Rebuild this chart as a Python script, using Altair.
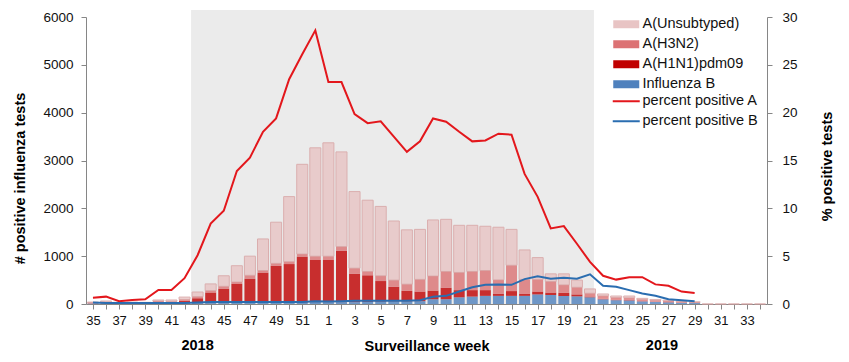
import json
import altair as alt
import pandas as pd

# ---- categories -----------------------------------------------------------
weeks = list(range(35, 53)) + list(range(1, 35))
tick_labels = [str(w) if k % 2 == 0 else "" for k, w in enumerate(weeks)]

# ---- stacked bar series (counts of positive tests), weeks 35..52, 1..34 ----
influenza_b = [10, 10, 10, 10, 10, 10, 10, 15, 20, 20, 20, 25, 25, 25, 30, 30, 30, 40,
               40, 40, 40, 45, 50, 55, 55, 60, 100, 100, 140, 155, 170, 170, 170, 170, 200,
               188, 167, 160, 140, 100, 80, 75, 55, 45, 35, 25, 20, 0, 0, 0, 0, 0]
h1n1 = [5, 5, 5, 5, 5, 25, 25, 55, 100, 220, 300, 400, 505, 630, 770, 805, 960, 880,
        880, 1070, 590, 555, 430, 305, 220, 200, 180, 240, 150, 135, 120, 45, 100, 40, 60,
        50, 66, 40, 15, 10, 10, 10, 5, 5, 5, 5, 5, 0, 0, 0, 0, 0]
h3n2 = [15, 30, 10, 15, 10, 30, 20, 25, 35, 40, 50, 35, 70, 45, 50, 50, 55, 80,
        80, 90, 120, 80, 110, 140, 140, 255, 305, 340, 370, 390, 410, 290, 540, 305, 255,
        232, 167, 150, 70, 60, 45, 45, 35, 30, 25, 20, 15, 0, 0, 0, 0, 0]
unsubtyped = [10, 18, 10, 10, 10, 19, 29, 50, 95, 140, 220, 340, 400, 660, 860, 1360, 1875, 2265,
              2370, 1980, 1600, 1490, 1450, 1235, 1135, 1045, 1172, 1090, 985, 965, 925, 1100, 750, 615, 455,
              160, 230, 150, 90, 40, 32, 37, 23, 15, 15, 10, 5, 0, 0, 0, 0, 0]

# ---- percent positive lines (right axis), data until week 29 ----------------
pct_a = [0.66, 0.77, 0.3, 0.42, 0.49, 1.46, 1.46, 2.7, 5.1, 8.4, 9.75, 13.9, 15.3, 18.0, 19.4, 23.5, 26.1, 28.6,
         23.2, 23.2, 19.85, 18.9, 19.1, 17.5, 15.9, 17.0, 19.4, 19.05, 18.0, 17.0, 17.1, 17.8, 17.7, 13.6, 11.2,
         7.9, 8.15, 6.3, 4.4, 2.95, 2.55, 2.8, 2.8, 2.05, 1.9, 1.3, 1.15]
pct_b = [0.15, 0.1, 0.1, 0.1, 0.1, 0.1, 0.1, 0.1, 0.15, 0.2, 0.2, 0.2, 0.2, 0.2, 0.2, 0.2, 0.2, 0.3,
         0.25, 0.3, 0.35, 0.35, 0.35, 0.35, 0.35, 0.4, 0.75, 0.85, 1.3, 1.75, 2.0, 2.05, 2.0, 2.6, 2.9,
         2.65, 2.75, 2.65, 3.1, 1.9, 1.8, 1.45, 1.1, 0.87, 0.5, 0.4, 0.3]

# ---- season shading (in category index units) and year labels --------------
season_start = [7.5]
season_end = [38.3]
years = ["2018", "2019"]
year_pos = [8, 43.5]

bar_names = ["A(Unsubtyped)", "A(H3N2)", "A(H1N1)pdm09", "Influenza B"]
bar_colors = ["#e8c4c4", "#dc7274", "#c00000", "#4f81bd"]
line_names = ["percent positive A", "percent positive B"]
line_colors = ["#e3171c", "#2a6db0"]

rows = []
for name, vals, order in [("Influenza B", influenza_b, 1), ("A(H1N1)pdm09", h1n1, 2),
                          ("A(H3N2)", h3n2, 3), ("A(Unsubtyped)", unsubtyped, 4)]:
    for k, v in enumerate(vals):
        rows.append({"i": k, "week": weeks[k], "series": name, "value": v, "order": order})
bars_df = pd.DataFrame(rows)

lrows = []
for name, vals in [("percent positive A", pct_a), ("percent positive B", pct_b)]:
    for k, v in enumerate(vals):
        lrows.append({"i": k, "week": weeks[k], "series": name, "pct": v})
lines_df = pd.DataFrame(lrows)

shade_df = pd.DataFrame({"start": season_start, "end": season_end})
years_df = pd.DataFrame({"year": years, "pos": year_pos})

FONT = "Liberation Sans"
W, H = 681, 287

x_scale = alt.Scale(domain=[-0.15, 51.15], nice=False, zero=False)
x_axis = alt.Axis(
    values=list(range(len(weeks))),
    labelExpr=json.dumps(tick_labels) + "[datum.value]",
    labelOverlap=False, labelFlush=False,
    title="Surveillance  week", titleFont=FONT, titleFontSize=14.5, titleFontWeight="bold",
    titleBaseline="middle", titleY=42, titleColor="#000",
    labelFont=FONT, labelFontSize=13, labelColor="#111", labelPadding=5,
    domainColor="#868686", tickColor="#868686", tickSize=5, grid=False,
)

shade = alt.Chart(shade_df).mark_rect(color="#ebebeb").encode(
    x=alt.X("start:Q", scale=x_scale, axis=x_axis),
    x2="end:Q",
    y=alt.value(-7),
    y2=alt.value(H),
)

bars = alt.Chart(bars_df).mark_bar(size=11, opacity=0.8, strokeWidth=1).encode(
    x=alt.X("i:Q", scale=x_scale, axis=x_axis),
    y=alt.Y("value:Q", stack="zero",
            scale=alt.Scale(domain=[0, 6000], nice=False),
            axis=alt.Axis(values=[0, 1000, 2000, 3000, 4000, 5000, 6000], format="d",
                          title="# positive influenza tests", titleFont=FONT, titleFontSize=14.5,
                          titleFontWeight="bold", titleAngle=270, titleAlign="center",
                          titleBaseline="middle", titleX=-66, titleY=161, titleColor="#000",
                          labelFont=FONT, labelFontSize=13.5, labelColor="#111", labelPadding=8,
                          domainColor="#868686", tickColor="#868686", tickSize=5, grid=False)),
    color=alt.Color("series:N", scale=alt.Scale(domain=bar_names, range=bar_colors),
                    legend=alt.Legend(orient="none", legendX=533, legendY=0, title=None,
                                      symbolType="M-2.6,-0.8H2.6V0.8H-2.6Z", symbolSize=100,
                                      symbolOpacity=1, symbolStrokeWidth=0, labelOffset=9,
                                      labelFont=FONT, labelFontSize=14.5, labelColor="#111",
                                      rowPadding=5, padding=0)),
    order=alt.Order("order:Q", sort="ascending"),
    stroke=alt.condition("datum.series === 'A(Unsubtyped)'", alt.value("#d7a0a0"),
                         alt.value("transparent")),
)

lines = alt.Chart(lines_df).mark_line(strokeWidth=2).encode(
    x=alt.X("i:Q", scale=x_scale, axis=x_axis),
    y=alt.Y("pct:Q", scale=alt.Scale(domain=[0, 30], nice=False),
            axis=alt.Axis(orient="right", values=[0, 5, 10, 15, 20, 25, 30], format="d",
                          title="% positive tests", titleFont=FONT, titleFontSize=14.5,
                          titleFontWeight="bold", titleAngle=270, titleAlign="center",
                          titleBaseline="middle", titleX=60, titleY=149, titleColor="#000",
                          labelFont=FONT, labelFontSize=13.5, labelColor="#111", labelPadding=10,
                          domainColor="#868686", tickColor="#868686", tickSize=5, grid=False)),
    stroke=alt.Stroke("series:N", scale=alt.Scale(domain=line_names, range=line_colors),
                      legend=alt.Legend(orient="none", legendX=533, legendY=77, title=None,
                                        symbolType="M-2.7,0H2.7", symbolSize=100,
                                        symbolStrokeWidth=2, labelOffset=9,
                                        labelFont=FONT, labelFontSize=14.5, labelColor="#111",
                                        rowPadding=5, padding=0)),
)

year_text = alt.Chart(years_df).mark_text(font=FONT, fontSize=14.5, fontWeight="bold",
                                          baseline="middle", align="center", color="#000").encode(
    x=alt.X("pos:Q", scale=x_scale, axis=x_axis),
    y=alt.value(H + 42),
    text="year:N",
)

chart = alt.layer(shade, bars, lines, year_text).resolve_scale(
    y="independent", color="independent", stroke="independent"
).properties(
    width=W, height=H,
    autosize=alt.AutoSizeParams(type="none"),
    padding={"left": 78, "top": 9, "right": 74, "bottom": 50},
).configure_view(stroke=None)

chart.save("out.html", embed_options={"renderer": "svg", "actions": False})
